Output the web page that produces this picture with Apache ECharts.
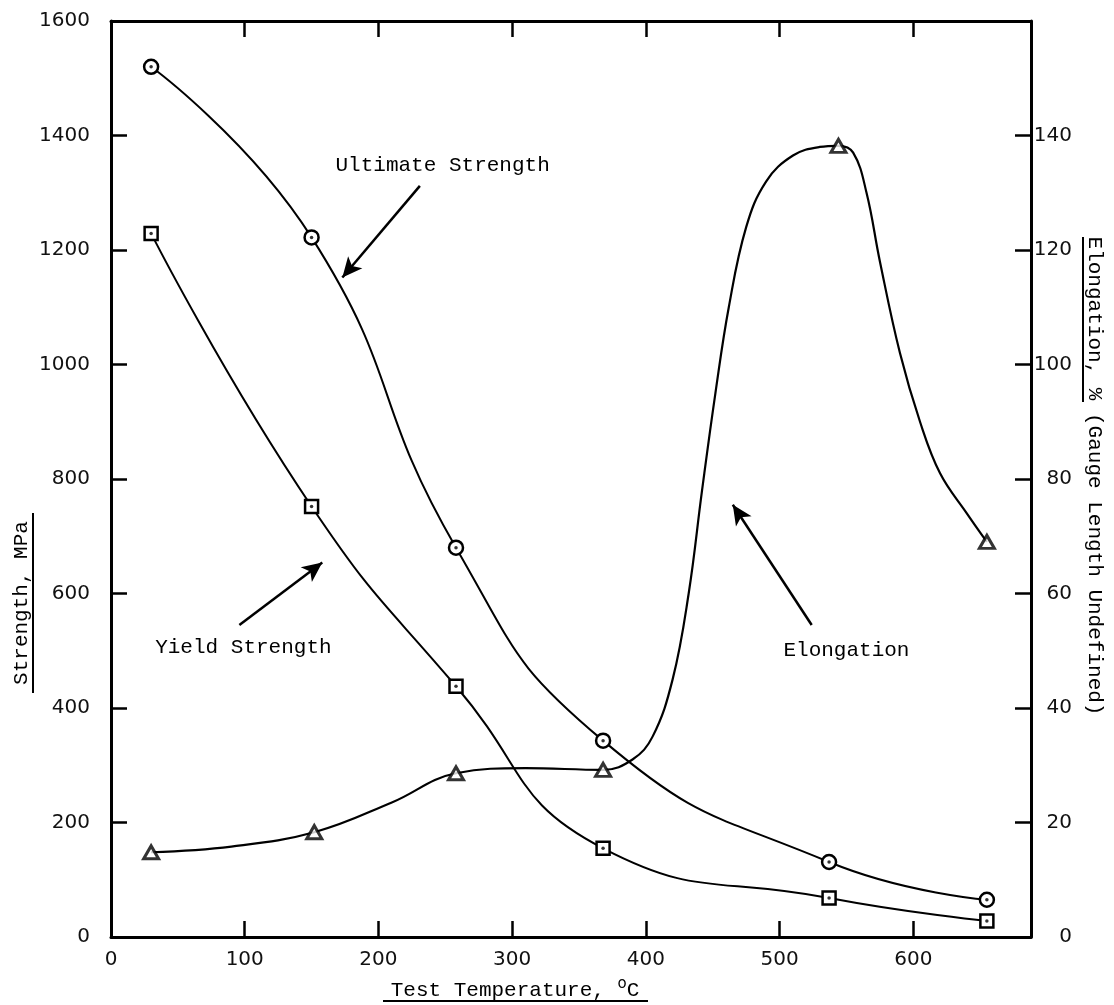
<!DOCTYPE html>
<html><head><meta charset="utf-8">
<script src="https://cdn.jsdelivr.net/npm/echarts@6/dist/echarts.min.js"></script>
<style>html,body{margin:0;padding:0;background:#fff}#c{width:1114px;height:1005px}</style>
</head><body><div id="c"></div>
<script>
// ---- data ----
const strengthTemps = [30, 150, 258, 368, 537, 655];
const ultimateStrength = [1520, 1222, 680, 343, 131, 65];
const yieldStrength = [1229, 752, 438, 155, 68, 28];
const elongTemps = [30, 152, 258, 368, 544, 655];
const elongation = [14.8, 18.3, 28.6, 29.2, 138.2, 69];
// points
const elongCurveTemps = [30, 90, 152, 210, 258, 310, 368, 390, 405, 420, 432, 442, 452, 462, 475, 490, 510, 530, 544, 555, 565, 575, 590, 605, 620, 640, 655];
const elongCurveVals  = [14.8, 15.8, 18.3, 23.5, 28.6, 29.5, 29.2, 31, 35, 45, 60, 78, 95, 110, 124, 132, 136.5, 138, 138.2, 137, 130, 118, 102, 90, 81, 74, 69];
const xTicks = [0, 100, 200, 300, 400, 500, 600];
const leftTicks = [0, 200, 400, 600, 800, 1000, 1200, 1400, 1600];
const rightTicks = [0, 20, 40, 60, 80, 100, 120, 140];

const MONO = '"Liberation Mono", "DejaVu Sans Mono", monospace';
const SANS = '"DejaVu Sans", sans-serif';
const zip = (a, b) => a.map((v, i) => [v, b[i]]);

const chart = echarts.init(document.getElementById('c'), null, {renderer: 'canvas'});
const axisLine = {show: true, onZero: false, lineStyle: {color: '#000', width: 3}};
const tick = {show: true, inside: true, length: 16, lineStyle: {color: '#000', width: 2.5}};

const option = {
  animation: false,
  backgroundColor: '#fff',
  grid: {left: 111, right: 83, top: 21, bottom: 68},
  xAxis: [{
    type: 'value', min: 0, max: 688, interval: 100, position: 'bottom',
    axisLine, axisTick: tick, splitLine: {show: false},
    axisLabel: {color: '#111', fontFamily: SANS, fontSize: 20, margin: 13,
      formatter: v => xTicks.includes(v) ? String(v) : ''}
  }, {
    type: 'value', min: 0, max: 688, interval: 100, position: 'top',
    axisLine, axisTick: tick, splitLine: {show: false}, axisLabel: {show: false}
  }],
  yAxis: [{
    type: 'value', min: 0, max: 1600, interval: 200, position: 'left',
    axisLine, axisTick: tick, splitLine: {show: false},
    axisLabel: {color: '#111', fontFamily: SANS, fontSize: 20, margin: 21,
      formatter: v => leftTicks.includes(v) ? String(v) : ''}
  }, {
    type: 'value', min: 0, max: 160, interval: 20, position: 'right',
    axisLine, axisTick: tick, splitLine: {show: false},
    axisLabel: {color: '#111', fontFamily: SANS, fontSize: 20, margin: 41, align: 'right',
      formatter: v => rightTicks.includes(v) ? String(v) : ''}
  }],
  series: [{
    name: 'Ultimate Strength', type: 'line', smooth: 0.5,
    data: zip(strengthTemps, ultimateStrength),
    symbol: 'circle', symbolSize: 14,
    lineStyle: {color: '#000', width: 2},
    itemStyle: {color: '#fff', borderColor: '#000', borderWidth: 2.5},
    z: 3,
    markLine: {
      silent: true, symbol: ['none', 'arrow'], symbolSize: [14, 20],
      lineStyle: {color: '#000', width: 2.5, type: 'solid'}, label: {show: false},
      data: [
        [{coord: [231, 1312]}, {coord: [173, 1152]}],
        [{coord: [96, 545]}, {coord: [158, 654]}]
      ]
    },
    markPoint: {
      symbol: 'circle', symbolSize: 0, silent: true,
      label: {show: true, position: 'inside', color: '#000', fontFamily: MONO, fontSize: 21, formatter: '{b}'},
      data: [
        {name: 'Ultimate Strength', coord: [248, 1347]},
        {name: 'Yield Strength', coord: [99, 506]}
      ]
    }
  }, {
    name: 'Yield Strength', type: 'line', smooth: 0.5,
    data: zip(strengthTemps, yieldStrength),
    symbol: 'rect', symbolSize: 13,
    lineStyle: {color: '#000', width: 2},
    itemStyle: {color: '#fff', borderColor: '#000', borderWidth: 2.5},
    z: 3
  }, {
    name: 'Elongation curve', type: 'line', yAxisIndex: 1, smooth: 0.4,
    data: zip(elongCurveTemps, elongCurveVals),
    showSymbol: false, symbol: 'none',
    lineStyle: {color: '#000', width: 2.2},
    z: 2,
    markLine: {
      silent: true, symbol: ['none', 'arrow'], symbolSize: [14, 20],
      lineStyle: {color: '#000', width: 2.5, type: 'solid'}, label: {show: false},
      data: [[{coord: [524, 54.5]}, {coord: [465, 75.5]}]]
    },
    markPoint: {
      symbol: 'circle', symbolSize: 0, silent: true,
      label: {show: true, position: 'inside', color: '#000', fontFamily: MONO, fontSize: 21, formatter: '{b}'},
      data: [{name: 'Elongation', coord: [550, 50.1]}]
    }
  }, {
    name: 'Elongation', type: 'scatter', yAxisIndex: 1,
    data: zip(elongTemps, elongation),
    symbol: 'triangle', symbolSize: [15, 13],
    itemStyle: {color: '#fff', borderColor: '#000', borderWidth: 3},
    z: 4
  }, {
    name: 'centre dots', type: 'scatter', silent: true,
    data: zip(strengthTemps, ultimateStrength).concat(zip(strengthTemps, yieldStrength)),
    symbol: 'circle', symbolSize: 3.5,
    itemStyle: {color: '#000'}, z: 5
  }],
  graphic: [
    {type: 'text', x: 515, y: 990, z: 10, style: {
      text: 'Test Temperature, {s|o}C', rich: {s: {fontSize: 15, fontFamily: SANS, padding: [0, 0, 12, 0]}},
      fontFamily: MONO, fontSize: 21, fill: '#000', align: 'center', verticalAlign: 'middle'}},
    {type: 'line', z: 10, shape: {x1: 383, y1: 1001, x2: 648, y2: 1001}, style: {stroke: '#000', lineWidth: 2}},
    {type: 'text', x: 21, y: 603, rotation: Math.PI / 2, z: 10, style: {
      text: 'Strength, MPa', fontFamily: MONO, fontSize: 21, fill: '#000', align: 'center', verticalAlign: 'middle'}},
    {type: 'line', z: 10, shape: {x1: 33, y1: 513, x2: 33, y2: 693}, style: {stroke: '#000', lineWidth: 2}},
    {type: 'text', x: 1095, y: 476, rotation: -Math.PI / 2, z: 10, style: {
      text: 'Elongation, % (Gauge Length Undefined)', fontFamily: MONO, fontSize: 21, fill: '#000', align: 'center', verticalAlign: 'middle'}},
    {type: 'line', z: 10, shape: {x1: 1083, y1: 237, x2: 1083, y2: 402}, style: {stroke: '#000', lineWidth: 2}}
  ]
};
chart.setOption(option);
</script>
</body></html>
